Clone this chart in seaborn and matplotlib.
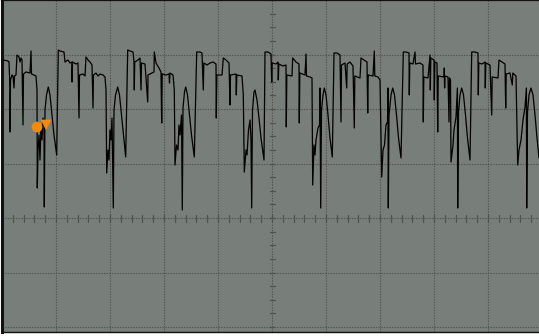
import numpy as np
import pandas as pd
import matplotlib
matplotlib.use("Agg")
import matplotlib.pyplot as plt
import seaborn as sns

# Captured record as (sample index, ADC level) pairs.
# 54 samples per horizontal division, 54.5 codes per vertical division,
# level 0 = screen centre.
lead_in = [(1, 158), (6, 157), (7, 156), (8, 130), (8, 86), (8.5, 138), (10, 143), (11, 142),
           (12, 130), (12.5, 142), (14, 143), (15, 163), (17, 161), (18, 156), (19, 160),
           (20, 158), (21, 93), (21.5, 144), (24, 146), (28, 145), (29, 167), (29.5, 144),
           (32, 143), (34, 142)]
dip_1 = [(35, 128), (35.3, 30), (36, 68), (37, 83), (38, 58), (39, 93), (40, 78), (41, 100),
         (42, 93), (42.3, 11), (43, 108), (44.5, 123), (46.3, 131), (48, 123), (50, 103),
         (52, 83), (54.7, 63), (56.3, 168)]
frame_1 = [(58, 167), (62, 166), (63, 156), (66, 158), (68, 155), (70, 156), (70, 136),
           (70.5, 156), (74, 154), (76, 155), (77, 100), (77.5, 143), (81, 144), (83, 142),
           (84, 161), (86, 158), (88, 156), (90, 153), (91, 110), (91.5, 143), (94, 145),
           (96, 142), (98, 144), (101, 143), (103, 141)]
dip_2 = [(104, 128), (104.7, 45), (106, 68), (107, 58), (108, 88), (109, 78), (110, 100),
         (111.3, 10), (112, 108), (113.5, 123), (115.7, 131), (117.5, 123), (119.5, 103),
         (121.5, 83), (123.7, 61), (125.7, 168)]
frame_2 = [(128, 167), (131, 166), (132, 156), (132.3, 128), (132.7, 156), (136, 158),
           (138, 160), (139, 128), (139.5, 155), (143, 154), (145.7, 116), (146, 143),
           (150, 145), (152, 146), (152.3, 166), (154, 155), (157, 150), (159, 146),
           (159.7, 95), (160.2, 144), (164, 143), (167, 144), (167.5, 135), (168, 145),
           (171, 143)]
dip_3 = [(172.3, 128), (173, 53), (174.5, 73), (176, 68), (177, 93), (178, 83), (179.5, 103),
         (180.3, 8), (181, 110), (182.5, 126), (183.7, 131), (185.5, 123), (187.5, 103),
         (189.5, 83), (192.3, 61), (194.7, 166)]
frame_3 = [(198, 166), (200, 165), (201.3, 128), (201.8, 155), (205, 153), (208, 155),
           (211, 156), (214, 154), (214.3, 100), (214.8, 143), (220, 143), (221.3, 160),
           (224, 158), (227, 155), (228, 113), (228.5, 143), (234, 144), (234.3, 123),
           (234.8, 143), (240, 142)]
dip_4 = [(241.3, 123), (242.3, 46), (244, 68), (245, 63), (246.5, 88), (248, 98), (249, 78),
         (249.7, 10), (250.5, 108), (252, 126), (253, 128), (255, 118), (257, 100),
         (259, 80), (262, 58), (263, 166)]
frame_4 = [(266, 166), (269, 164), (269.7, 136), (270.2, 155), (274, 154), (276, 156),
           (276.3, 138), (276.8, 154), (281, 152), (284, 153), (284.3, 91), (284.8, 143),
           (290, 142), (290.7, 160), (294, 156), (297, 154), (297.3, 95), (297.8, 145),
           (303, 143), (304, 164), (304.5, 142), (308, 141), (310, 140)]
dip_5 = [(310.7, 33), (312, 73), (313, 63), (314, 78), (316, 90), (317.5, 93), (318, 130),
         (318.7, 10), (319.5, 108), (321, 123), (322.3, 130), (324, 123), (326, 103),
         (328, 80), (330.3, 61), (332, 165)]
frame_5 = [(335, 165), (338, 163), (339, 96), (339.5, 153), (343, 155), (344.7, 130),
           (345.2, 154), (348, 156), (351, 152), (352.3, 90), (352.8, 142), (358, 140),
           (359, 160), (362, 158), (365, 156), (365.7, 105), (366.2, 143), (371, 142),
           (372.3, 167), (372.8, 142), (376, 141), (378, 138)]
dip_6 = [(379.7, 41), (381, 68), (382.5, 73), (384, 93), (385.5, 96), (386, 130),
         (386.3, 10), (387, 103), (389, 123), (390.7, 130), (392.5, 123), (394.5, 103),
         (396.5, 80), (399, 60), (401.3, 166)]
frame_6 = [(404, 166), (407, 165), (407.3, 123), (407.8, 155), (411, 154), (413, 166),
           (413.5, 154), (418, 155), (421, 153), (421.3, 96), (421.8, 141), (426, 140),
           (428, 163), (428.3, 128), (428.8, 160), (432, 158), (432.3, 118), (432.8, 156),
           (435, 155), (435.7, 86), (436.2, 142), (442, 141), (442.3, 150), (442.6, 130),
           (443, 142), (446, 141), (447, 96), (447.5, 140), (448.5, 138)]
dip_7 = [(449, 56), (451, 73), (452, 88), (454, 101), (455.4, 130), (455.7, 10), (456.5, 106),
         (458, 123), (459.7, 130), (461.5, 123), (463.5, 103), (465.5, 80), (468, 58),
         (469.7, 166)]
frame_7 = [(473, 166), (476, 165), (476.3, 123), (476.8, 155), (480, 154), (483, 156),
           (483.3, 130), (483.8, 155), (488, 153), (489.7, 103), (490.2, 141), (496, 140),
           (497, 158), (500, 156), (503, 154), (503.7, 110), (504.2, 144), (508, 145),
           (510.3, 133), (510.8, 145), (514, 142)]
dip_8 = [(515.7, 53), (517, 68), (519, 78), (521, 98), (523, 111), (524.4, 130), (524.7, 10),
         (525.5, 106), (527, 123), (529, 130), (531, 123), (533, 103), (535, 80), (537, 60),
         (539, 68)]

segments = [lead_in, dip_1, frame_1, dip_2, frame_2, dip_3, frame_3, dip_4, frame_4,
            dip_5, frame_5, dip_6, frame_6, dip_7, frame_7, dip_8]

# cursor markers on the first dip
cursor_sample = [35, 44]
cursor_level = [91, 93]
cursor_kind = ["start", "stop"]

SAMPLES_PER_DIV = 54
CODES_PER_DIV = 54.5

points = [p for seg in segments for p in seg]
trace = pd.DataFrame(points, columns=["sample", "level"])
cursors = pd.DataFrame({"sample": cursor_sample, "level": cursor_level, "kind": cursor_kind})

screen = "#787e79"
graticule = "#50544f"

sns.set_style("white", {"axes.facecolor": screen})

W, H = 539, 336
fig = plt.figure(figsize=(W / 100, H / 100), dpi=100, facecolor="white")
ax = fig.add_axes([2 / W, 4 / H, 540 / W, 332 / H])

ax.set_xlim(0, 10 * SAMPLES_PER_DIV)
ax.set_ylim(-114, 4 * CODES_PER_DIV)

# graticule: dotted division lines
ax.set_xticks(np.arange(0, 10 * SAMPLES_PER_DIV + 1, SAMPLES_PER_DIV))
ax.set_yticks(np.arange(-2, 5) * CODES_PER_DIV)
ax.grid(True, color=graticule, linestyle=(0, (1.2, 1.2)), linewidth=0.8)
ax.tick_params(length=0, labelbottom=False, labelleft=False)
ax.set_axisbelow(True)

# centre crosshair sub-division marks
cx = 5 * SAMPLES_PER_DIV
for xs in np.arange(0, 10 * SAMPLES_PER_DIV + 1, SAMPLES_PER_DIV / 5):
    ax.plot([xs, xs], [-3.5, 3.5], color=graticule, lw=0.9, zorder=1)
for ys in np.arange(-2, 4.01, 0.25) * CODES_PER_DIV:
    ax.plot([cx - 2.5, cx + 2.5], [ys, ys], color=graticule, lw=0.9, zorder=1)

sns.lineplot(data=trace, x="sample", y="level", estimator=None, sort=False,
             color="black", linewidth=0.9, ax=ax, zorder=3)

sns.scatterplot(data=cursors, x="sample", y="level", style="kind",
                markers={"start": "o", "stop": "v"}, color="#f28a0c",
                s=60, edgecolor="none", legend=False, ax=ax, zorder=4)

ax.set_xlabel("")
ax.set_ylabel("")

for side in ["left", "top", "bottom", "right"]:
    ax.spines[side].set_visible(True)
    ax.spines[side].set_color("#111111")
ax.spines["left"].set_linewidth(2.2)
ax.spines["top"].set_linewidth(1.6)
ax.spines["bottom"].set_linewidth(1.0)

fig.savefig("out.png", dpi=100, facecolor="white")
